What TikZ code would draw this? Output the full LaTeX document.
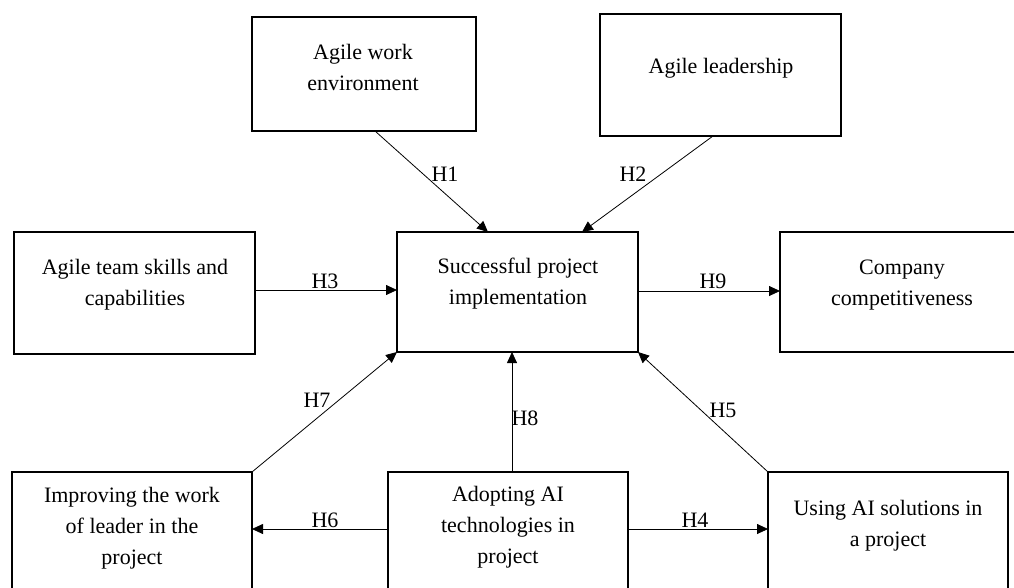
\documentclass[tikz,border=0pt]{standalone}
\usepackage{fontspec}
\setmainfont{Liberation Serif}
\usetikzlibrary{arrows.meta,calc}
\tikzset{
  box/.style={draw, line width=1.8pt, rectangle, inner sep=0pt, outer sep=0pt},
  txt/.style={align=center, inner sep=0pt, font=\fontsize{22}{31}\selectfont},
  hlab/.style={inner sep=0pt, font=\fontsize{22}{31}\selectfont},
  conn/.style={line width=0.8pt, -{Triangle[length=11pt,width=10pt]}}
}
\begin{document}
\begin{tikzpicture}[x=1pt,y=-1pt]
\useasboundingbox (0,0) rectangle (1014,587);
\clip (0,0) rectangle (1014,587);
% boxes
\node[box, minimum width=224pt, minimum height=114pt] (b1) at (364,74) {};
\node[box, minimum width=241pt, minimum height=122pt] (b2) at (720.5,75) {};
\node[box, minimum width=241pt, minimum height=122pt] (b3) at (134.5,293) {};
\node[box, minimum width=241pt, minimum height=120pt] (b4) at (517.5,292) {};
\node[box, minimum width=242pt, minimum height=120pt] (b5) at (901,292) {};
\node[box, minimum width=240pt, minimum height=120pt] (b6) at (132,532) {};
\node[box, minimum width=240pt, minimum height=120pt] (b7) at (508,532) {};
\node[box, minimum width=240pt, minimum height=120pt] (b8) at (888,532) {};
% texts
\node[txt] (t1) at (363,67) {Agile work\\environment};
\node[txt] (t2) at (721,68) {Agile leadership};
\node[txt] (t3) at (135,285) {Agile team skills and\\capabilities};
\node[txt] (t4) at (518,284) {Successful project\\implementation};
\node[txt] (t5) at (902,285) {Company\\competitiveness};
\node[txt] (t6) at (132,528) {Improving the work\\of leader in the\\project};
\node[txt] (t7) at (508,527) {Adopting AI\\technologies in\\project};
\node[txt] (t8) at (888,526) {Using AI solutions in\\a project};
% connectors
\draw[conn] ([xshift=11pt]b1.south) -- ([xshift=-29.5pt]b4.north);
\draw[conn] ([xshift=-7.5pt]b2.south) -- ([xshift=64.5pt]b4.north);
\draw[conn] ([yshift=3pt]b3.east) -- ([yshift=2pt]b4.west);
\draw[conn] ([yshift=1pt]b4.east) -- ([yshift=1pt]b5.west);
\draw[conn] ([yshift=3pt]b7.west) -- ([yshift=3pt]b6.east);
\draw[conn] ([yshift=3pt]b7.east) -- ([yshift=3pt]b8.west);
\draw[conn] ([xshift=4pt]b7.north) -- ([xshift=-5.5pt]b4.south);
\draw[conn] (b6.north east) -- (b4.south west);
\draw[conn] (b8.north west) -- (b4.south east);
% labels
\node[hlab] (l1) at (445,174) {H1};
\node[hlab] (l2) at (633,174) {H2};
\node[hlab] (l3) at (325,281) {H3};
\node[hlab] (l9) at (713,281) {H9};
\node[hlab] (l6) at (325,520) {H6};
\node[hlab] (l4) at (695,520) {H4};
\node[hlab] (l8) at (525,418) {H8};
\node[hlab] (l7) at (317,400) {H7};
\node[hlab] (l5) at (723,410) {H5};
\end{tikzpicture}
\end{document}
